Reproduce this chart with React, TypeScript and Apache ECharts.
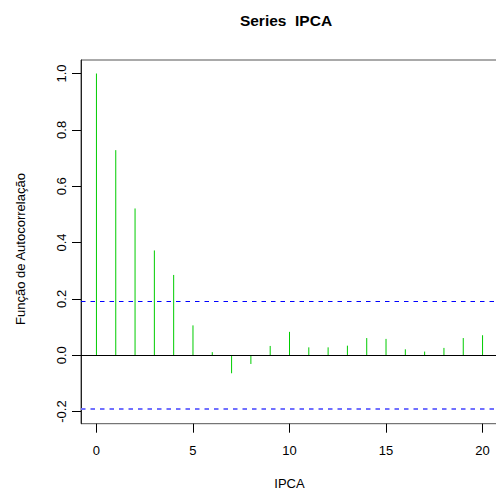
import React, { useEffect, useRef } from "react";
import * as echarts from "echarts";

const lags = [0, 1, 2, 3, 4, 5, 6, 7, 8, 9, 10, 11, 12, 13, 14, 15, 16, 17, 18, 19, 20];
const acfValues = [1.0, 0.728, 0.521, 0.372, 0.285, 0.106, 0.011, -0.064, -0.031, 0.033, 0.083, 0.028, 0.028, 0.034, 0.061, 0.058, 0.021, 0.013, 0.026, 0.061, 0.071];
const confLimit = 0.194;
const xTicks = [0, 5, 10, 15, 20];
const yTicks = [-0.2, 0, 0.2, 0.4, 0.6, 0.8, 1.0];
const titleText = "Series  IPCA";
const xName = "IPCA";
const yName = "Função de Autocorrelação";

const FONT = '"Liberation Sans", Arial, Helvetica, sans-serif';

export default function App() {
  const ref = useRef<HTMLDivElement>(null);
  useEffect(() => {
    if (!ref.current) return;
    const chart = echarts.init(ref.current, null, { renderer: "svg" });
    const data = lags.map((l, i) => [l, acfValues[i]]);
    chart.setOption({
      animation: false,
      backgroundColor: "#ffffff",
      textStyle: { fontFamily: FONT },
      grid: {
        left: 81,
        top: 60,
        width: 417,
        height: 363.7,
        show: true,
        borderColor: "#555",
        borderWidth: 1,
        backgroundColor: "transparent",
        outerBoundsMode: "none",
        containLabel: false,
      },
      xAxis: {
        type: "value",
        min: -0.8,
        max: 20.8,
        axisLine: { show: false, onZero: false },
        splitLine: { show: false },
        axisTick: { show: true, length: 9, customValues: xTicks, lineStyle: { color: "#000" } },
        axisLabel: { customValues: xTicks, color: "#000", fontSize: 13, fontFamily: FONT, margin: 20 },
        name: xName,
        nameLocation: "middle",
        nameGap: 53,
        nameTextStyle: { color: "#000", fontSize: 13, fontFamily: FONT },
      },
      yAxis: {
        type: "value",
        min: -0.243,
        max: 1.048,
        axisLine: { show: true, onZero: false, lineStyle: { color: "#222" } },
        splitLine: { show: false },
        axisTick: { show: true, length: 9, customValues: yTicks, lineStyle: { color: "#000" } },
        axisLabel: {
          customValues: yTicks,
          rotate: 90,
          color: "#000",
          fontSize: 13,
          fontFamily: FONT,
          margin: 13,
          formatter: (v: number) => v.toFixed(1),
        },
      },
      graphic: [
        {
          type: "text",
          x: 286,
          y: 20,
          style: { text: titleText, font: `bold 15.5px ${FONT}`, fill: "#000", align: "center", verticalAlign: "middle" },
        },
        {
          type: "text",
          x: 20,
          y: 249,
          rotation: Math.PI / 2,
          style: { text: yName, font: `13px ${FONT}`, fill: "#000", align: "center", verticalAlign: "middle" },
        },
      ],
      series: [
        {
          type: "custom",
          data,
          renderItem: (params: any, api: any) => {
            const p0 = api.coord([api.value(0), 0]);
            const p1 = api.coord([api.value(0), api.value(1)]);
            return {
              type: "line",
              shape: { x1: p0[0], y1: p0[1], x2: p1[0], y2: p1[1] },
              style: { stroke: "#00cc00", lineWidth: 1 },
            };
          },
          markLine: {
            silent: true,
            symbol: "none",
            label: { show: false },
            data: [
              { yAxis: 0, lineStyle: { color: "#000", type: "solid", width: 1 } },
              { yAxis: confLimit, lineStyle: { color: "#0000ff", type: [4.5, 5], width: 1 } },
              { yAxis: -confLimit, lineStyle: { color: "#7070ff", type: [4.5, 5], width: 2 } },
            ],
          },
        },
      ],
    });
    return () => chart.dispose();
  }, []);
  return <div ref={ref} style={{ position: "absolute", left: 0, top: 0, width: 496, height: 493 }} />;
}
